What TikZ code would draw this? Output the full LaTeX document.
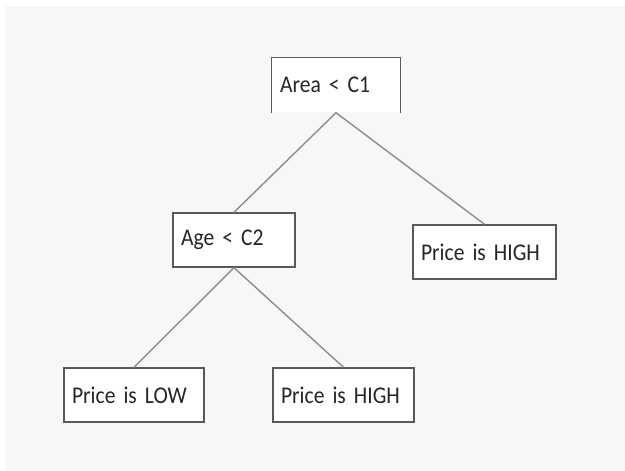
\documentclass[tikz,border=0pt]{standalone}
\usepackage{fontspec}
\setmainfont[FakeStretch=0.9]{Carlito}
\usetikzlibrary{positioning}
\tikzset{
	box/.style={draw=black!65,line width=1.4pt,fill=white,rectangle,align=left,
		minimum height=54pt,inner sep=8pt,font=\fontsize{24}{28}\selectfont,text=black!85},
	openbox/.style={box,draw=none},
	link/.style={draw=black!45,line width=1.4pt}
}

\begin{document}
\begin{tikzpicture}[x=1pt,y=-1pt]
			\fill[white] (0,0) rectangle (625,471);
			\fill[black!3] (5,6) rectangle (625,471);
			\useasboundingbox (0,0) rectangle (625,471);
			\node[openbox,text width=112pt] (area) at (336,85) {Area < C1};
			\draw[black!65,line width=1.4pt] (area.south west) -- (area.north west) -- (area.north east) -- (area.south east);
			\node[box,text width=106pt] (age) at (234,240) {Age < C2};
			\node[box,text width=127pt] (high1) at (484.5,252) {Price is HIGH};
			\node[box,text width=124pt] (low) at (134,395) {Price is LOW};
			\node[box,text width=125pt] (high2) at (343.5,395) {Price is HIGH};
			\draw[link] (area.south) -- (age.north);
			\draw[link] (area.south) -- (high1.north);
			\draw[link] (age.south) -- (low.north);
			\draw[link] (age.south) -- (high2.north);
		\end{tikzpicture}
\end{document}
